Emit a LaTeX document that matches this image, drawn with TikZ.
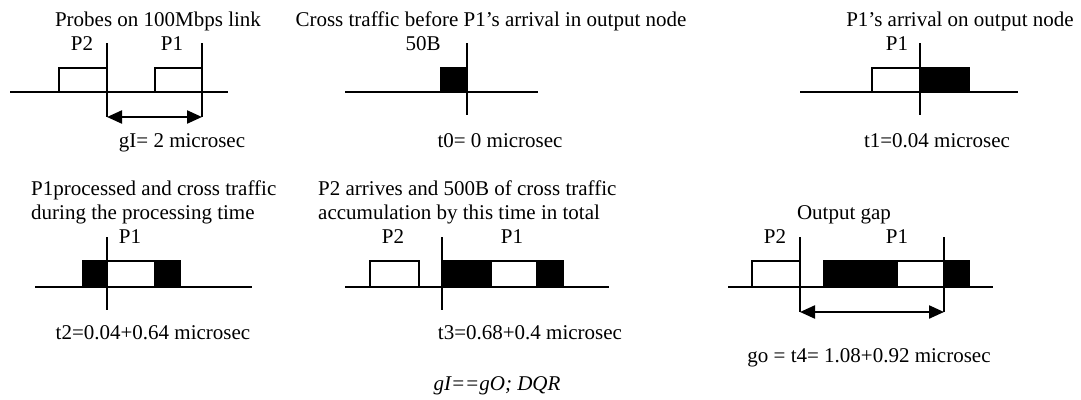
\documentclass[tikz,border=0pt]{standalone}
\usepackage{fontspec}
\setmainfont{Liberation Serif}
\usetikzlibrary{arrows.meta}
\begin{document}
\begin{tikzpicture}[x=1pt,y=-1pt]
\tikzset{
  lbl/.style={font=\fontsize{21}{24}\selectfont, inner sep=0pt, anchor=base},
  lblw/.style={lbl, anchor=base west},
  wire/.style={line width=2pt},
  pkt/.style={draw, line width=1.8pt, fill=white},
  xtraf/.style={draw, line width=1.8pt, fill=black},
  marker/.style={line width=1.6pt},
  gaparrow/.style={line width=2.2pt,
    {Triangle[length=15pt,width=13pt]}-{Triangle[length=15pt,width=13pt]}}
}
\useasboundingbox (0,0) rectangle (1081,399);

% ---------- panel 1: probes on the input link ----------
\node[lbl] (t1) at (158,26) {Probes on 100Mbps link};
\node[lbl] (p2a) at (82,50) {P2};
\node[lbl] (p1a) at (172,50) {P1};
\draw[wire] (10,92) -- (228,92);
\draw[pkt] (59,92) rectangle (107,68);
\draw[pkt] (155,92) rectangle (202,68);
\draw[marker] (107,43) -- (107,117) coordinate (ga);
\draw[marker] (202,43) -- (202,117) coordinate (gb);
\draw[gaparrow] (ga) -- (gb);
\node[lbl] (gi) at (182,147) {gI= 2 microsec};

% ---------- panel 2: cross traffic before P1 arrives ----------
\node[lbl] (t2) at (491,26) {Cross traffic before P1’s arrival in output node};
\node[lbl] (b50) at (423,50) {50B};
\draw[wire] (345,92) -- (538,92);
\draw[xtraf] (441,92) rectangle (467,68);
\draw[marker] (467,43) -- (467,115);
\node[lbl] (l0) at (500,147) {t0= 0 microsec};

% ---------- panel 3: P1 arrives at the output node ----------
\node[lbl] (t3) at (960,26) {P1’s arrival on output node};
\node[lbl] (p1c) at (897,50) {P1};
\draw[wire] (800,92) -- (1018,92);
\draw[pkt] (872,92) rectangle (920,68);
\draw[xtraf] (920,92) rectangle (969,68);
\draw[marker] (920,43) -- (920,115);
\node[lbl] (l1) at (937,147) {t1=0.04 microsec};

% ---------- panel 4: P1 processed ----------
\node[lblw] (t4a) at (31,195) {P1processed and cross traffic};
\node[lblw] (t4b) at (31,219) {during the processing time};
\node[lbl] (p1d) at (130,243) {P1};
\draw[wire] (35,287) -- (252,287);
\draw[xtraf] (83,287) rectangle (107,261);
\draw[pkt] (107,287) rectangle (155,261);
\draw[xtraf] (155,287) rectangle (180,261);
\draw[marker] (107,237) -- (107,310);
\node[lbl] (l2) at (153,339) {t2=0.04+0.64 microsec};

% ---------- panel 5: P2 arrives ----------
\node[lblw] (t5a) at (318,195) {P2 arrives and 500B of cross traffic};
\node[lblw] (t5b) at (318,219) {accumulation by this time in total};
\node[lbl] (p2e) at (393,243) {P2};
\node[lbl] (p1e) at (512,243) {P1};
\draw[wire] (345,287) -- (609,287);
\draw[pkt] (370,287) rectangle (419,261);
\draw[xtraf] (442,287) rectangle (491,261);
\draw[pkt] (491,287) rectangle (537,261);
\draw[xtraf] (537,287) rectangle (563,261);
\draw[marker] (442,237) -- (442,310);
\node[lbl] (l3) at (530,339) {t3=0.68+0.4 microsec};

% ---------- panel 6: output gap ----------
\node[lbl] (t6) at (844,219) {Output gap};
\node[lbl] (p2f) at (775,243) {P2};
\node[lbl] (p1f) at (897,243) {P1};
\draw[wire] (728,287) -- (993,287);
\draw[pkt] (752,287) rectangle (800,261);
\draw[xtraf] (824,287) rectangle (897,261);
\draw[pkt] (897,287) rectangle (944,261);
\draw[xtraf] (944,287) rectangle (969,261);
\draw[marker] (800,237) -- (800,312) coordinate (oa);
\draw[marker] (944,237) -- (944,312) coordinate (ob);
\draw[gaparrow] (oa) -- (ob);
\node[lbl] (l4) at (869,362) {go = t4= 1.08+0.92 microsec};

% ---------- relation ----------
\node[lbl, font=\fontsize{21}{24}\selectfont\itshape] (rel) at (497,390) {gI==gO; DQR};
\end{tikzpicture}
\end{document}
